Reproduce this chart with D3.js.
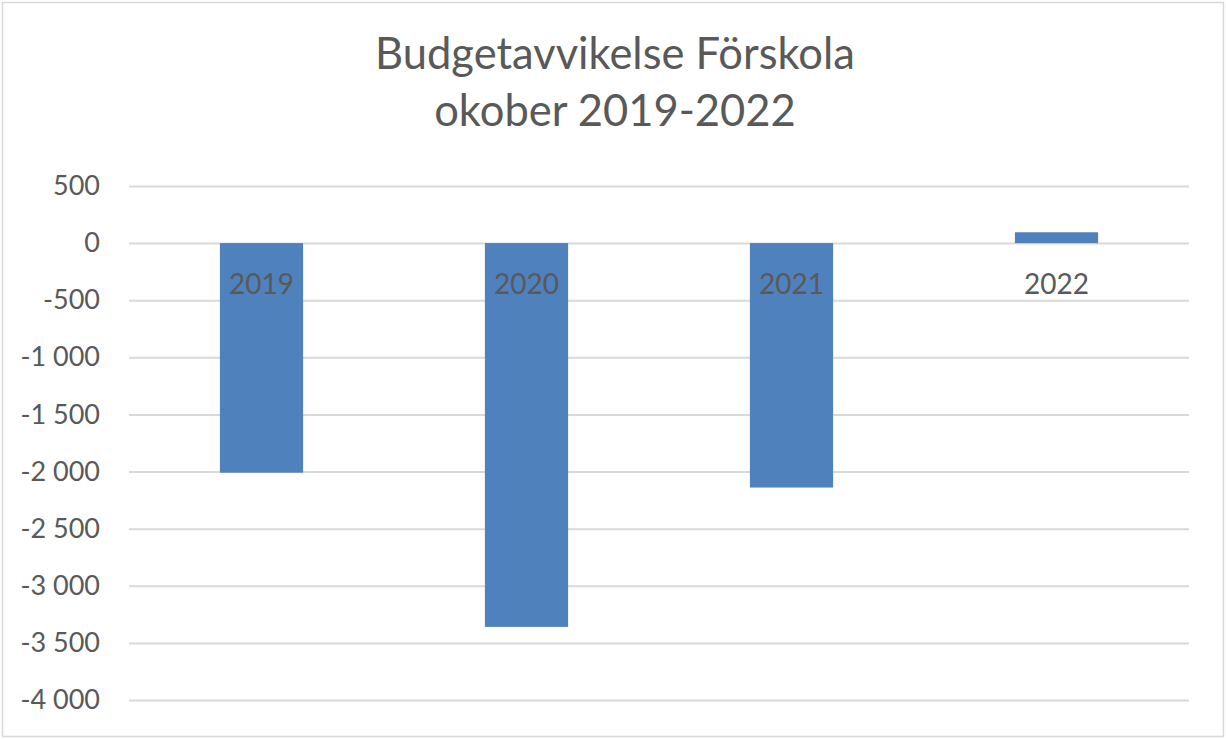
<!DOCTYPE html>
<html>
<head>
<meta charset="utf-8">
<script src="https://cdn.jsdelivr.net/npm/d3@7"></script>
<style>
  html, body { margin: 0; padding: 0; background: #fff; }
  svg { display: block; font-family: Lato, "Liberation Sans", sans-serif; }
</style>
</head>
<body>
<div id="chart"></div>
<script>
// data
const categories = ["2019", "2020", "2021", "2022"];
const values = [-2010, -3360, -2140, 95];
const yTicks = [500, 0, -500, -1000, -1500, -2000, -2500, -3000, -3500, -4000];
const titleLines = ["Budgetavvikelse Förskola", "okober 2019-2022"];

const width = 1226, height = 739;
const margin = { top: 186, right: 37, bottom: 39, left: 129 };

const svg = d3.select("#chart").append("svg")
    .attr("width", width)
    .attr("height", height);

// border
svg.append("rect")
    .attr("x", 2.5).attr("y", 2.5)
    .attr("width", width - 5).attr("height", height - 5)
    .attr("fill", "#fff")
    .attr("stroke", "#d9d9d9")
    .attr("stroke-width", 1.5);

const x = d3.scaleBand()
    .domain(categories)
    .range([margin.left, width - margin.right])
    .paddingInner(0.686)
    .paddingOuter(0.343);

const y = d3.scaleLinear()
    .domain([500, -4000])
    .range([margin.top, height - margin.bottom]);

// swedish style: space as thousands separator, plain hyphen for minus
const fmt = d => {
    const s = d3.format(",")(Math.abs(d)).replace(/,/g, " ");
    return (d < 0 ? "-" : "") + s;
};

// gridlines + tick labels
const yAxis = d3.axisLeft(y)
    .tickValues(yTicks)
    .tickSize(-(width - margin.right - margin.left))
    .tickPadding(29)
    .tickFormat(fmt);

const gy = svg.append("g")
    .attr("transform", `translate(${margin.left},0)`)
    .call(yAxis);
gy.attr("font-family", null).attr("font-size", null);
gy.select(".domain").remove();
gy.selectAll(".tick line").attr("stroke", "#d9d9d9").attr("stroke-width", 2);
gy.selectAll(".tick text")
    .attr("fill", "#595959")
    .style("font-size", "27px");

// bars
svg.append("g")
    .selectAll("rect")
    .data(values)
    .join("rect")
    .attr("x", (d, i) => x(categories[i]))
    .attr("width", x.bandwidth())
    .attr("y", d => y(Math.max(0, d)))
    .attr("height", d => Math.abs(y(d) - y(0)))
    .attr("fill", "#4f81bd");

// category labels (just under the zero line)
svg.append("g")
    .selectAll("text")
    .data(categories)
    .join("text")
    .attr("x", d => x(d) + x.bandwidth() / 2)
    .attr("y", y(0) + 51)
    .attr("text-anchor", "middle")
    .attr("fill", "#595959")
    .style("font-size", "28px")
    .text(d => d);

// title
svg.append("g")
    .selectAll("text")
    .data(titleLines)
    .join("text")
    .attr("x", width / 2 + 2)
    .attr("y", (d, i) => 69 + i * 57)
    .attr("text-anchor", "middle")
    .attr("fill", "#595959")
    .style("font-size", "43.5px")
    .text(d => d);
</script>
</body>
</html>
